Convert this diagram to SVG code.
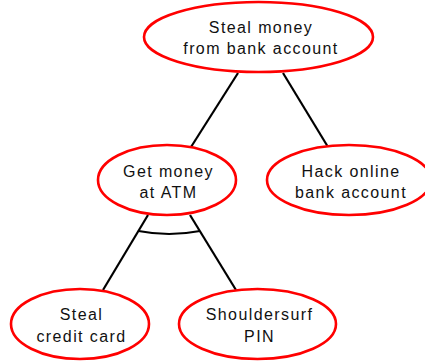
<svg xmlns="http://www.w3.org/2000/svg" width="425" height="362" viewBox="0 0 425 362">
<style>
.n ellipse{fill:#fff;stroke:#f00;stroke-width:2.6}
.n text{font-family:"Liberation Sans",Arial,sans-serif;font-size:16px;letter-spacing:1.4px;text-anchor:middle;fill:#111}
.c line,.c path{stroke:#000;stroke-width:2.2;fill:none}
</style>
<rect width="425" height="362" fill="#fff"/>
<g id="connectors" class="c">
<line x1="238" y1="73" x2="191" y2="147"/>
<line x1="283" y1="73" x2="328" y2="147"/>
<line x1="148" y1="215" x2="103" y2="290"/>
<line x1="190" y1="215" x2="236" y2="290"/>
<path d="M138.5,231 Q169,237 200,231"/>
</g>
<g id="root" class="n">
<ellipse cx="258.5" cy="37" rx="114.5" ry="35"/>
<text x="261" y="33">Steal money</text>
<text x="261" y="54">from bank account</text>
</g>
<g id="atm" class="n">
<ellipse cx="167" cy="180" rx="69" ry="35"/>
<text x="168.5" y="177">Get money</text>
<text x="168.5" y="198">at ATM</text>
</g>
<g id="online" class="n">
<ellipse cx="349" cy="180" rx="82" ry="35"/>
<text x="351" y="177">Hack online</text>
<text x="351" y="198">bank account</text>
</g>
<g id="card" class="n">
<ellipse cx="80" cy="324" rx="69" ry="35"/>
<text x="81.5" y="320">Steal</text>
<text x="81.5" y="342">credit card</text>
</g>
<g id="pin" class="n">
<ellipse cx="257.5" cy="324" rx="78.5" ry="35"/>
<text x="259.5" y="320">Shouldersurf</text>
<text x="259.5" y="342">PIN</text>
</g>
</svg>
